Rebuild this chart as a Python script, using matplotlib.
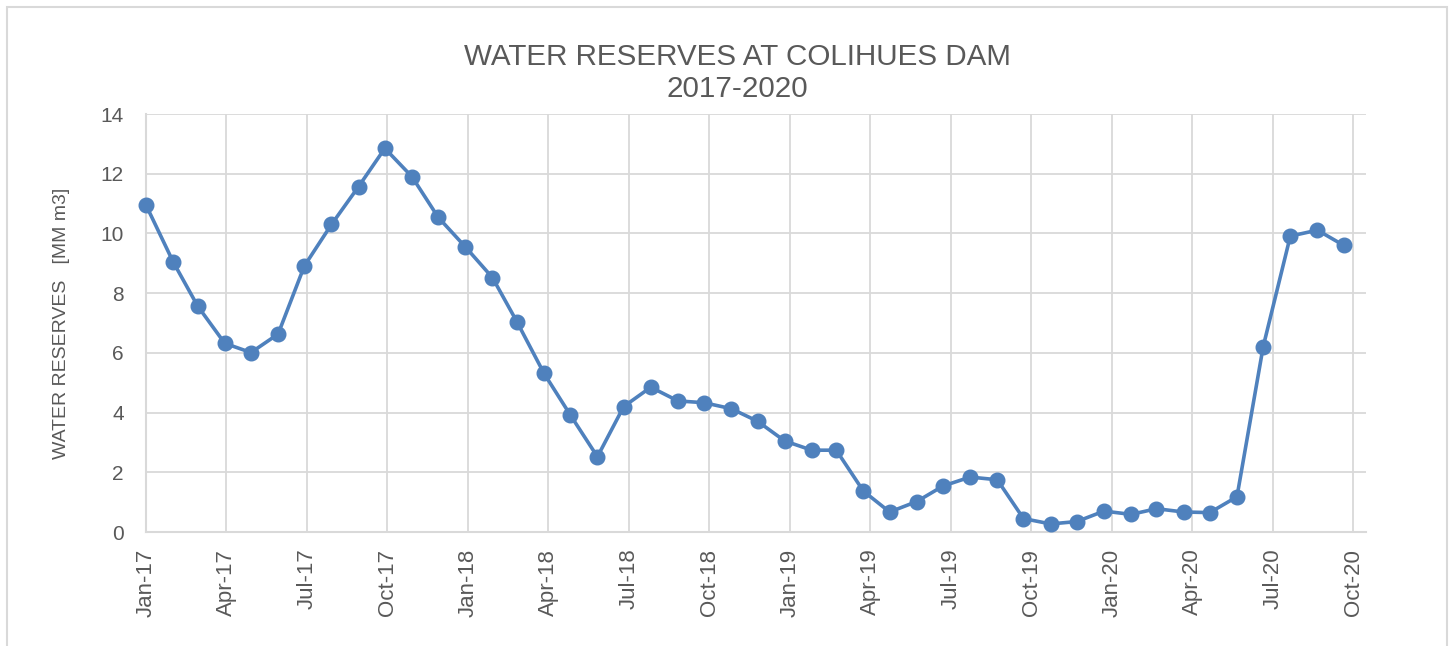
import numpy as np
import pandas as pd
import matplotlib
matplotlib.use("Agg")
import matplotlib.pyplot as plt
import matplotlib.dates as mdates
from matplotlib.patches import Rectangle

# monthly readings, Jan-2017 .. Oct-2020 (MM m3)
months = pd.date_range("2017-01-01", "2020-10-01", freq="MS")
reserves = [
    10.95, 9.05, 7.57, 6.32, 6.01, 6.63, 8.91, 10.30, 11.57, 12.85, 11.90, 10.54,
    9.55, 8.52, 7.04, 5.31, 3.92, 2.52, 4.20, 4.85, 4.39, 4.33, 4.13, 3.71,
    3.05, 2.74, 2.74, 1.37, 0.67, 1.02, 1.54, 1.84, 1.75, 0.45, 0.27, 0.35,
    0.70, 0.59, 0.78, 0.67, 0.65, 1.18, 6.21, 9.91, 10.11, 9.60,
]

# excel-style date axis: major unit of 92 days from the start date
axis_start = pd.Timestamp("2017-01-01")
axis_days = 1394.5
major_unit = 92
yticks = [0, 2, 4, 6, 8, 10, 12, 14]

plt.rcParams["font.family"] = ["Liberation Sans", "DejaVu Sans"]
TXT = "#595959"
GRID = "#d9d9d9"
BLUE = "#4f81bd"

fig = plt.figure(figsize=(14.53, 6.46), dpi=100)
ax = fig.add_axes([146 / 1453, 1 - 532 / 646, 1220 / 1453, 418 / 646])

# outer chart frame
fig.patches.append(Rectangle((7 / 1453, -0.05), 1440 / 1453, 1 - 7 / 646 + 0.05,
                             transform=fig.transFigure, fill=False,
                             edgecolor=GRID, linewidth=1.5))

ax.plot(months, reserves, color=BLUE, linewidth=2.6, marker="o",
        markersize=10.5, zorder=3, clip_on=False)

x0 = mdates.date2num(axis_start)
ax.set_xlim(x0, x0 + axis_days)
ax.set_ylim(0, 14)
ax.set_xticks([x0 + major_unit * k for k in range(16)])
ax.xaxis.set_major_formatter(mdates.DateFormatter("%b-%y"))
ax.set_yticks(yticks)

ax.grid(True, color=GRID, linewidth=1.3)
ax.set_axisbelow(True)
for s in ["top", "right"]:
    ax.spines[s].set_visible(False)
for s in ["left", "bottom"]:
    ax.spines[s].set_color(GRID)
    ax.spines[s].set_linewidth(1.5)

ax.tick_params(axis="both", length=0, colors=TXT)
ax.tick_params(axis="x", labelsize=16, pad=12, labelrotation=90)
ax.tick_params(axis="y", labelsize=15, pad=16)

ax.set_ylabel("WATER RESERVES   [MM m3]", fontsize=14, color=TXT, labelpad=22)
ax.set_title("WATER RESERVES AT COLIHUES DAM\n2017-2020", fontsize=21.3,
             color=TXT, pad=12, linespacing=1.2, x=0.4845)

plt.savefig("out.png", dpi=100)
